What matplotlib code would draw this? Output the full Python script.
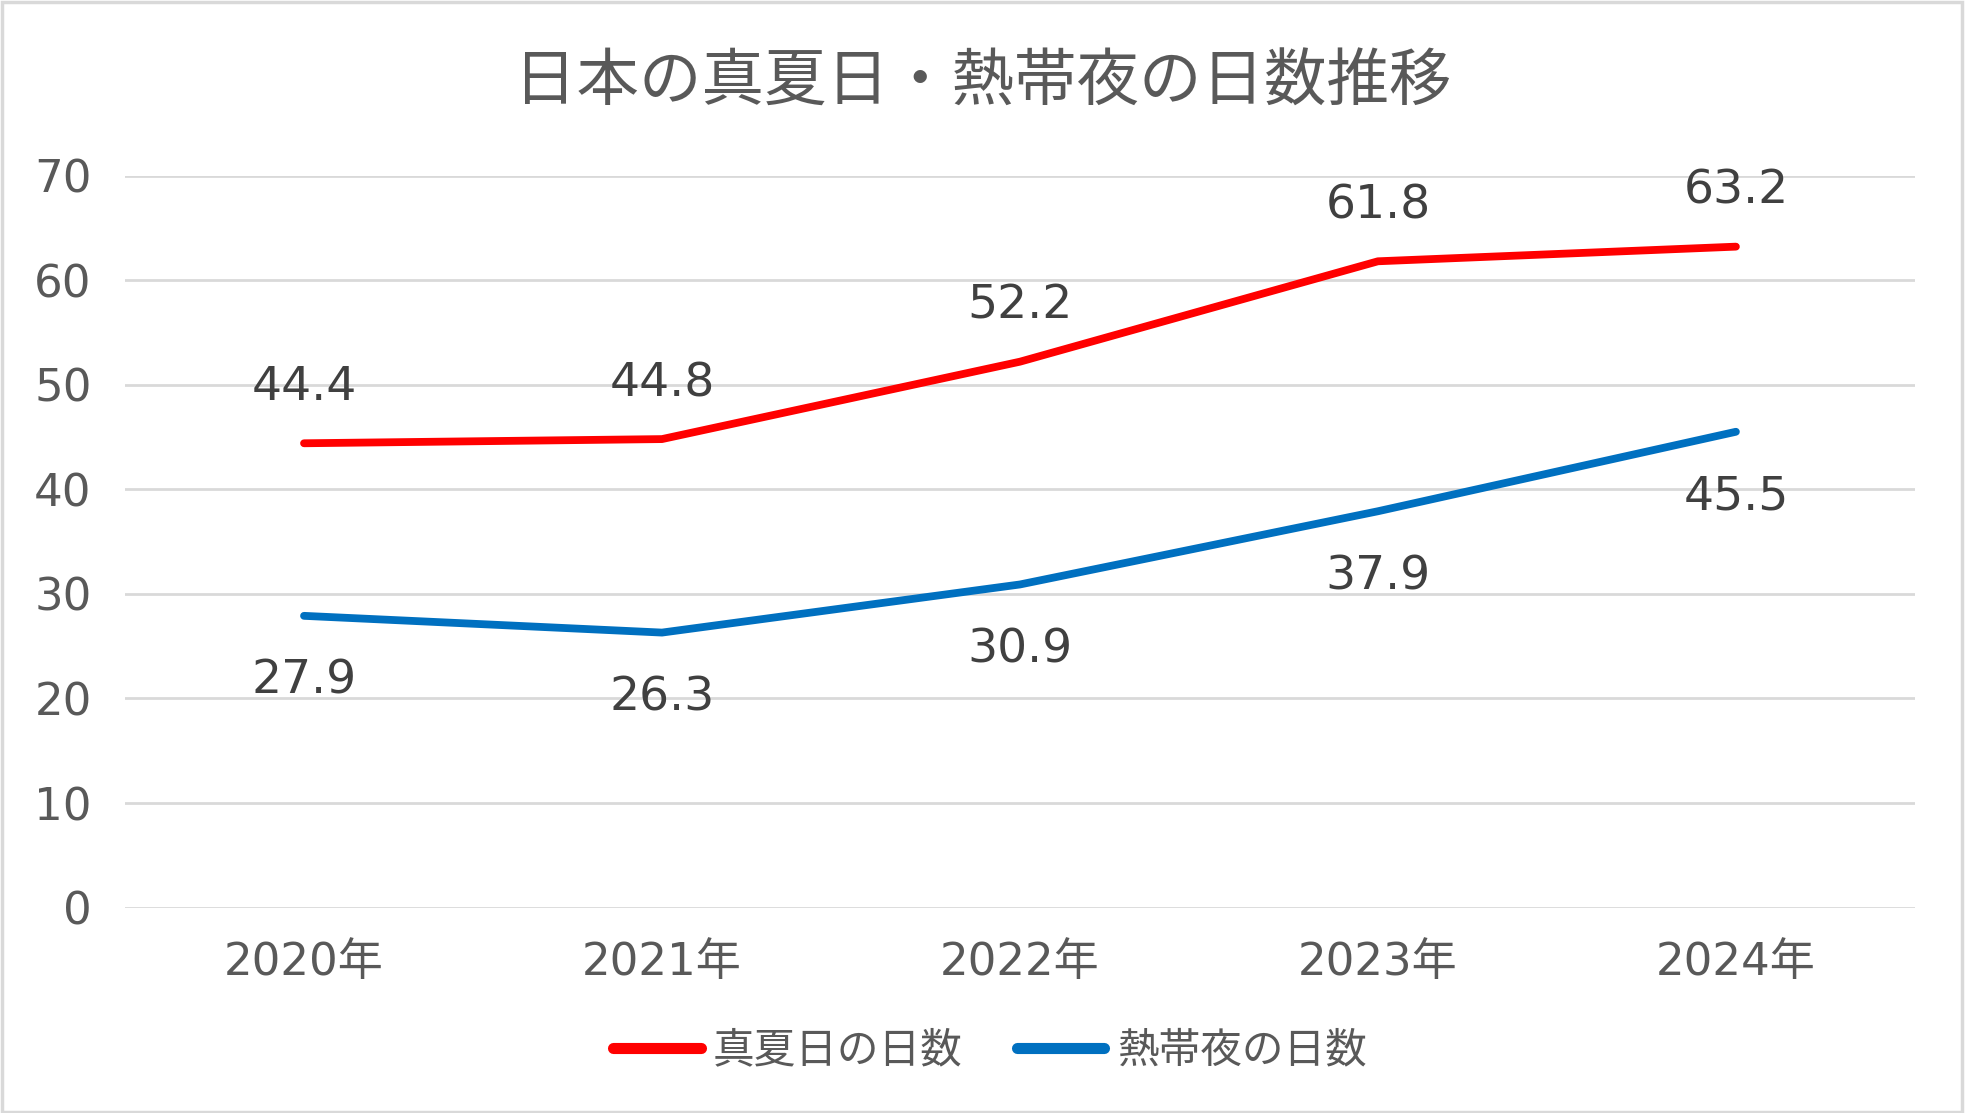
import matplotlib
matplotlib.use('Agg')
from matplotlib import pyplot as plt
from matplotlib.patches import Rectangle

plt.rcParams['font.family'] = ['Noto Sans CJK JP', 'DejaVu Sans']

years = ['2020年', '2021年', '2022年', '2023年', '2024年']
manatsubi = [44.4, 44.8, 52.2, 61.8, 63.2]
nettaiya = [27.9, 26.3, 30.9, 37.9, 45.5]
series_names = ['真夏日の日数', '熱帯夜の日数']

RED = '#ff0000'
BLUE = '#0070c0'
GRID = '#d9d9d9'
TXT = '#595959'
LBL = '#404040'
NUM_FONT = ['DejaVu Sans', 'Noto Sans CJK JP']

fig = plt.figure(figsize=(19.66, 11.13), dpi=100)
ax = fig.add_axes([0.0636, 0.1845, 0.9104, 0.6578])

x = list(range(len(years)))
ax.plot(x, manatsubi, color=RED, lw=5.6, solid_capstyle='round', solid_joinstyle='round',
        label=series_names[0], zorder=3)
ax.plot(x, nettaiya, color=BLUE, lw=5.6, solid_capstyle='round', solid_joinstyle='round',
        label=series_names[1], zorder=3)

# labels above the red line, below the blue one
for xi, v in zip(x, manatsubi):
    ax.annotate(f'{v:.1f}', (xi, v), xytext=(0, 40), textcoords='offset points',
                ha='center', va='center', fontsize=34, color=LBL, family=NUM_FONT)
for xi, v in zip(x, nettaiya):
    ax.annotate(f'{v:.1f}', (xi, v), xytext=(0, -47), textcoords='offset points',
                ha='center', va='center', fontsize=34, color=LBL, family=NUM_FONT)

ax.set_xlim(-0.5, len(years) - 0.5)
ax.set_ylim(0, 70)
ax.set_yticks(range(0, 71, 10))
ax.set_xticks(x)
ax.set_xticklabels(years)
ax.grid(axis='y', color=GRID, lw=2, zorder=0)
ax.set_axisbelow(True)
for s in ax.spines.values():
    s.set_visible(False)
ax.tick_params(axis='both', length=0, colors=TXT, labelsize=32.5)
ax.tick_params(axis='y', pad=24)
ax.tick_params(axis='x', pad=24)
for t in ax.get_xticklabels() + ax.get_yticklabels():
    t.set_family(NUM_FONT)

fig.text(0.5, 0.926, '日本の真夏日・熱帯夜の日数推移', ha='center', va='center',
         fontsize=45, color=TXT)

leg = fig.legend(loc='center', bbox_to_anchor=(0.5035, 0.056), ncol=2, frameon=False,
                 fontsize=30, handlelength=2.1, handletextpad=0.3, columnspacing=1.3)
for t in leg.get_texts():
    t.set_color(TXT)
for h in leg.get_lines():
    h.set_linewidth(8)
    h.set_solid_capstyle('round')

fig.patches.append(Rectangle((0.001, 0.001), 0.997, 0.997, transform=fig.transFigure,
                             fill=False, edgecolor=GRID, lw=2.5))

fig.savefig('out.png', dpi=100)
